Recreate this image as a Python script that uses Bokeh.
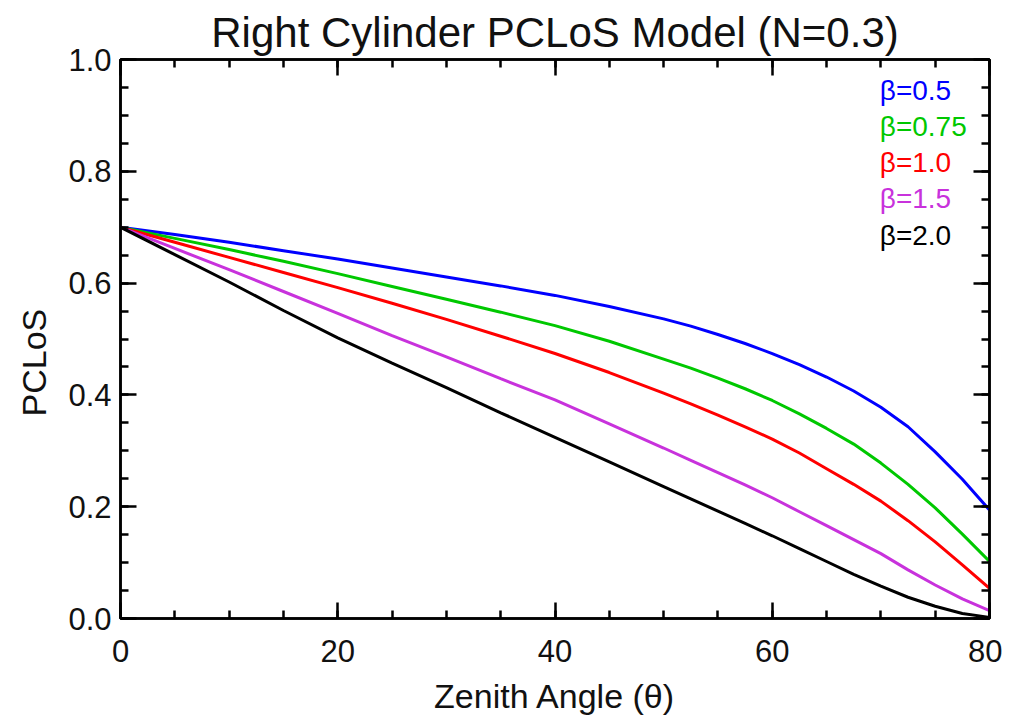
from bokeh.plotting import figure
from bokeh.models import (Range1d, LinearAxis, SingleIntervalTicker, PrintfTickFormatter,
                          CustomJSTickFormatter, Label, Title)
from bokeh.embed import file_html
from bokeh.resources import INLINE

# ---- data ----
zenith = [0, 5, 10, 15, 20, 25, 30, 35, 40, 45, 50, 52.5, 55, 57.5, 60, 62.5, 65, 67.5, 70, 72.5, 75, 77.5, 80]
pclos_b05 = [0.700, 0.687, 0.673, 0.658, 0.643, 0.627, 0.611, 0.595, 0.578, 0.558, 0.536, 0.523, 0.508, 0.492,
             0.474, 0.454, 0.432, 0.407, 0.378, 0.343, 0.298, 0.249, 0.194]
pclos_b075 = [0.700, 0.680, 0.660, 0.639, 0.617, 0.594, 0.571, 0.548, 0.524, 0.496, 0.464, 0.448, 0.430, 0.411,
              0.390, 0.366, 0.340, 0.312, 0.278, 0.240, 0.198, 0.151, 0.102]
pclos_b10 = [0.700, 0.673, 0.646, 0.619, 0.592, 0.564, 0.535, 0.505, 0.474, 0.440, 0.403, 0.384, 0.364, 0.343,
             0.321, 0.296, 0.268, 0.240, 0.210, 0.175, 0.137, 0.096, 0.054]
pclos_b15 = [0.700, 0.662, 0.624, 0.585, 0.546, 0.506, 0.468, 0.429, 0.391, 0.348, 0.305, 0.283, 0.261, 0.239,
             0.216, 0.191, 0.166, 0.141, 0.116, 0.087, 0.060, 0.035, 0.014]
pclos_b20 = [0.700, 0.651, 0.602, 0.551, 0.502, 0.457, 0.413, 0.368, 0.324, 0.280, 0.236, 0.214, 0.192, 0.170,
             0.148, 0.125, 0.102, 0.079, 0.058, 0.038, 0.022, 0.009, 0.002]
series_labels = ["β=0.5", "β=0.75", "β=1.0", "β=1.5", "β=2.0"]
series_colors = ["#0000ff", "#00c800", "#ff0000", "#c832dc", "#000000"]
series_values = [pclos_b05, pclos_b075, pclos_b10, pclos_b15, pclos_b20]

FONT = "Liberation Sans"

p = figure(width=1002, height=717, output_backend="svg", toolbar_location=None,
           x_range=Range1d(0, 80), y_range=Range1d(0, 1.0),
           min_border_left=120, min_border_right=13, min_border_top=59, min_border_bottom=94,
           title="Right Cylinder PCLoS Model (N=0.3)")
p.title.align = "center"
p.title.text_font = FONT
p.title.text_font_size = "42px"
p.title.text_font_style = "normal"
p.title.text_color = "#111111"
p.title.standoff = 8

p.grid.visible = False
p.background_fill_color = "white"
p.border_fill_color = "white"
p.outline_line_color = "black"
p.outline_line_width = 2.5

def style_axis(ax, show_labels=True):
    ax.axis_line_color = "black"
    ax.axis_line_width = 2.5
    ax.major_tick_line_width = 2.5
    ax.minor_tick_line_width = 2.5
    ax.major_tick_in = 16
    ax.major_tick_out = 0
    ax.minor_tick_in = 8
    ax.minor_tick_out = 0
    ax.major_label_text_font = FONT
    ax.major_label_text_font_size = "31px"
    ax.major_label_text_color = "#111111"
    ax.axis_label_text_font = FONT
    ax.axis_label_text_font_size = "34px"
    ax.axis_label_text_font_style = "normal"
    ax.axis_label_text_color = "#111111"
    if not show_labels:
        ax.formatter = CustomJSTickFormatter(code="return ''")
        ax.major_label_standoff = 0

p.xaxis.ticker = SingleIntervalTicker(interval=20, num_minor_ticks=4)
p.yaxis.ticker = SingleIntervalTicker(interval=0.2, num_minor_ticks=4)
p.yaxis.formatter = PrintfTickFormatter(format="%.1f")
style_axis(p.xaxis[0])
style_axis(p.yaxis[0])
p.xaxis.axis_label = "Zenith Angle (θ)"
p.xaxis.major_label_standoff = 21
p.yaxis.major_label_standoff = 9
p.xaxis.axis_label_standoff = 12

top = LinearAxis(ticker=SingleIntervalTicker(interval=20, num_minor_ticks=4))
style_axis(top, show_labels=False)
p.add_layout(top, "above")
right = LinearAxis(ticker=SingleIntervalTicker(interval=0.2, num_minor_ticks=4))
style_axis(right, show_labels=False)
p.add_layout(right, "right")

for vals, col in zip(series_values, series_colors):
    p.line(zenith, vals, line_color=col, line_width=3)

# y-axis title, placed as in the reference (somewhat below the frame centre)
ytitle = Title(text="PCLoS", align="left", offset=202, standoff=24, vertical_align="middle",
               text_font=FONT, text_font_size="34px", text_font_style="normal",
               text_color="#111111")
p.add_layout(ytitle, "left")

# legend texts (top right inside the frame)
for i, (lab, col) in enumerate(zip(series_labels, series_colors)):
    p.add_layout(Label(x=69.9, y=0.944 - i * 0.0645, text=lab, text_color=col,
                       text_font=FONT, text_font_size="28px",
                       text_baseline="middle", text_align="left"))

open("out.html", "w").write(file_html(p, INLINE))
